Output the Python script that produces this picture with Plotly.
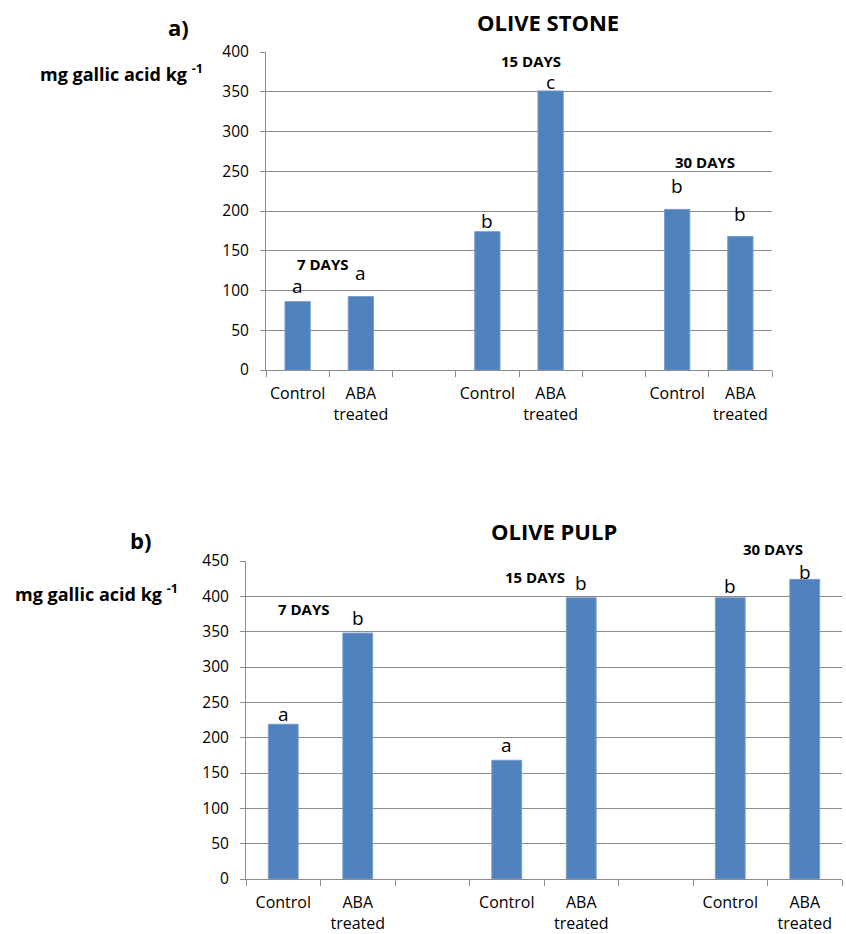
import plotly.graph_objects as go

# ---------------- data ----------------
cat_ids = ["c7", "a7", "g1", "c15", "a15", "g2", "c30", "a30"]
cat_labels = ["Control", "ABA<br>treated", "", "Control", "ABA<br>treated", "", "Control", "ABA<br>treated"]

stone_values = [86, 92.5, None, 174, 351, None, 202, 168]
pulp_values = [219, 348, None, 168, 398, None, 398, 424]

stone_letters = ["a", "a", "", "b", "c", "", "b", "b"]
pulp_letters = ["a", "b", "", "a", "b", "", "b", "b"]

day_labels = ["7 DAYS", "15 DAYS", "30 DAYS"]
yticks_stone = [0, 50, 100, 150, 200, 250, 300, 350, 400]
yticks_pulp = [0, 50, 100, 150, 200, 250, 300, 350, 400, 450]

# ---------------- styling ----------------
W, H = 846, 934
FONT = "Open Sans"
BAR = "#4F81BD"
GRID = "#8c8c8c"

def px(x):
    return x / W

def py(y):
    return 1 - y / H

stone_letter_shift = [16, 23, 0, 11, 9, 0, 23, 22]
pulp_letter_shift = [10, 15, 0, 15, 15, 0, 12, 7]

fig = go.Figure()
fig.add_trace(go.Bar(x=cat_ids, y=stone_values, marker=dict(color=BAR, line=dict(color="#7a9ccc", width=1)),
                     width=0.4, xaxis="x", yaxis="y", showlegend=False, hoverinfo="skip"))
fig.add_trace(go.Bar(x=cat_ids, y=pulp_values, marker=dict(color=BAR, line=dict(color="#7a9ccc", width=1)),
                     width=0.4, xaxis="x2", yaxis="y2", showlegend=False, hoverinfo="skip"))

xcommon = dict(type="category", categoryorder="array", categoryarray=cat_ids,
               tickmode="array", tickvals=cat_ids, ticktext=cat_labels,
               tickson="boundaries", ticks="outside", ticklen=6, tickcolor=GRID,
               showline=True, linecolor=GRID, linewidth=1, showgrid=False, tickangle=0,
               tickfont=dict(family=FONT, size=16, color="#000"), ticklabelstandoff=9,
               fixedrange=True, automargin=False)
ycommon = dict(ticks="outside", ticklen=5, tickcolor=GRID, showline=True, linecolor=GRID,
               linewidth=1, showgrid=True, gridcolor=GRID, gridwidth=1, zeroline=False,
               tickfont=dict(family=FONT, size=15.5, color="#000"), ticklabelstandoff=8,
               fixedrange=True, automargin=False)

fig.update_layout(
    width=W, height=H, margin=dict(l=0, r=0, t=0, b=0, pad=0, autoexpand=False),
    paper_bgcolor="white", plot_bgcolor="white", bargap=0.6,
    xaxis=dict(domain=[px(266), px(772)], anchor="y", **xcommon),
    yaxis=dict(domain=[py(370), py(52)], anchor="x", range=[0, 400],
               tickvals=yticks_stone, **ycommon),
    xaxis2=dict(domain=[px(246), px(842)], anchor="y2", **xcommon),
    yaxis2=dict(domain=[py(879), py(561)], anchor="x2", range=[0, 450],
                tickvals=yticks_pulp, **ycommon),
)

ann = []
# letters above bars
for cid, v, lt, sh in zip(cat_ids, stone_values, stone_letters, stone_letter_shift):
    if lt:
        ann.append(dict(x=cid, y=v, xref="x", yref="y", text=lt, showarrow=False,
                        yanchor="middle", yshift=sh, font=dict(family=FONT, size=19, color="#000")))
for cid, v, lt, sh in zip(cat_ids, pulp_values, pulp_letters, pulp_letter_shift):
    if lt:
        ann.append(dict(x=cid, y=v, xref="x2", yref="y2", text=lt, showarrow=False,
                        yanchor="middle", yshift=sh, font=dict(family=FONT, size=19, color="#000")))

# day labels
stone_day_pos = [(323, 264), (531, 61), (705, 162)]
pulp_day_pos = [(304, 609), (535, 577), (773, 549)]
for lab, (x, y) in zip(day_labels, stone_day_pos):
    ann.append(dict(x=px(x), y=py(y), xref="paper", yref="paper", text=f"<b>{lab}</b>",
                    showarrow=False, xanchor="center", yanchor="middle",
                    font=dict(family=FONT, size=15, color="#000")))
for lab, (x, y) in zip(day_labels, pulp_day_pos):
    ann.append(dict(x=px(x), y=py(y), xref="paper", yref="paper", text=f"<b>{lab}</b>",
                    showarrow=False, xanchor="center", yanchor="middle",
                    font=dict(family=FONT, size=15, color="#000")))

# titles and panel letters
for txt, x, y, size in [("OLIVE STONE", 548, 22, 22), ("OLIVE PULP", 554, 531, 22),
                        ("a)", 178, 27, 22), ("b)", 140, 540, 22)]:
    ann.append(dict(x=px(x), y=py(y), xref="paper", yref="paper", text=f"<b>{txt}</b>",
                    showarrow=False, xanchor="center", yanchor="middle",
                    font=dict(family=FONT, size=size, color="#000")))

# y-axis titles
for x, y in [(38, 73), (13, 593)]:
    ann.append(dict(x=px(x), y=py(y), xref="paper", yref="paper",
                    text="<b>mg gallic acid kg <sup>-1</sup></b>",
                    showarrow=False, xanchor="left", yanchor="middle",
                    font=dict(family=FONT, size=18, color="#000")))

fig.update_layout(annotations=ann)
fig.write_html(
    "out.html",
    config={"displayModeBar": False},
    post_script="document.body.style.margin='0';document.body.style.overflow='hidden';"
                "document.documentElement.style.overflow='hidden';",
)
